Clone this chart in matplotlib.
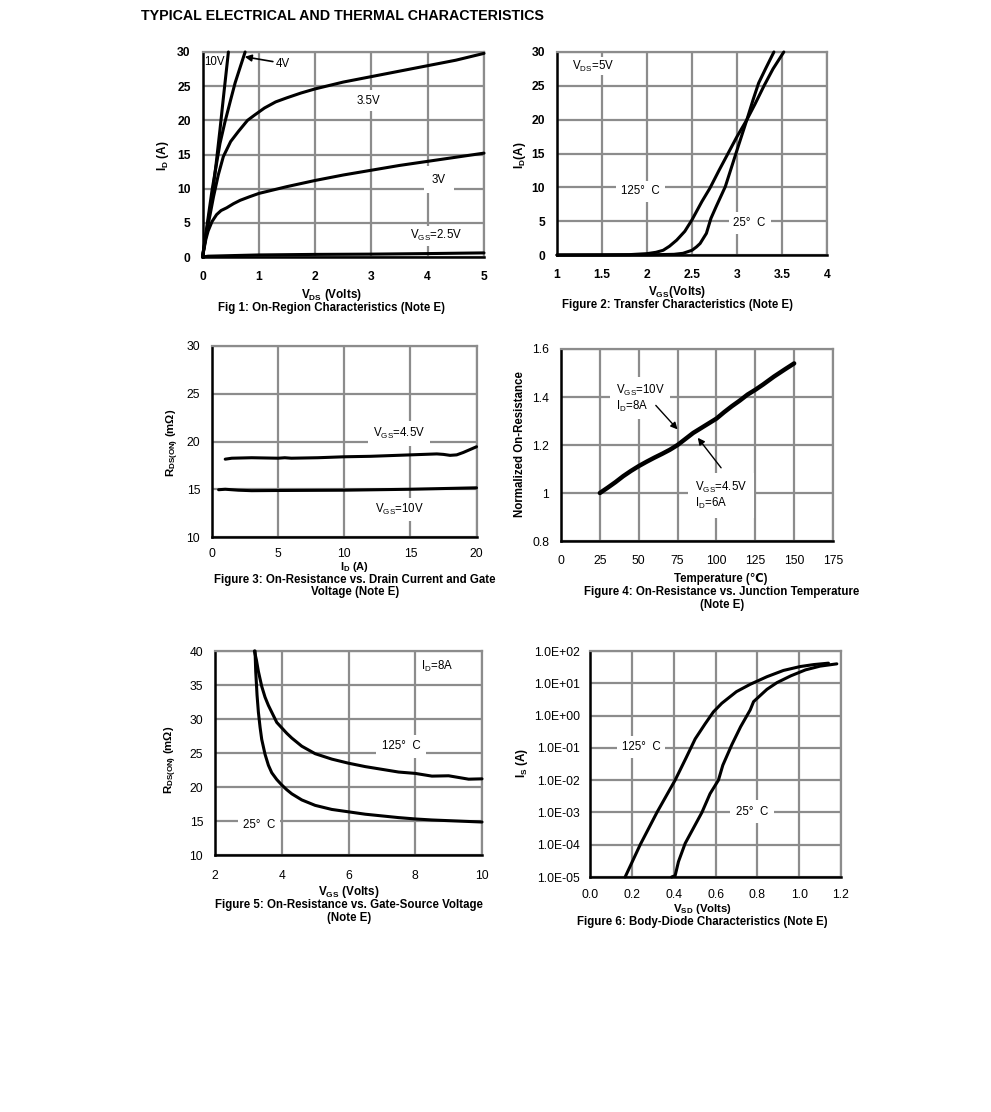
import matplotlib
matplotlib.use("Agg")
import matplotlib.pyplot as plt

plt.rcParams["font.family"] = ["Liberation Sans", "DejaVu Sans"]
plt.rcParams["mathtext.fontset"] = "custom"
plt.rcParams["mathtext.rm"] = "Liberation Sans"
plt.rcParams["mathtext.bf"] = "Liberation Sans:bold"
plt.rcParams["mathtext.default"] = "regular"

W, H = 991, 1112
BLACK = "#000000"
GRID = "#8c8c8c"

# Fig 1
f1_10v_x = [0, 0.05, 0.1, 0.17, 0.24, 0.31, 0.38, 0.46]
f1_10v_y = [0, 2.6, 5.2, 8.8, 13.5, 18.6, 24, 30]
f1_4v_x = [0, 0.08, 0.17, 0.24, 0.31, 0.4, 0.5, 0.58, 0.67, 0.757]
f1_4v_y = [0, 4.6, 9.8, 13.2, 16.6, 19.8, 23, 25.5, 27.8, 30]
f1_35v_x = [0, 0.04, 0.08, 0.13, 0.195, 0.28, 0.37, 0.5, 0.64, 0.8, 0.93, 1.1, 1.3, 1.5, 1.75, 2, 2.5, 3, 3.5, 4, 4.5, 5]
f1_35v_y = [0, 2, 3.9, 6, 8.8, 12, 14.7, 16.9, 18.4, 20, 20.8, 21.8, 22.7, 23.3, 24, 24.6, 25.6, 26.4, 27.2, 28, 28.8, 29.8]
f1_3v_x = [0, 0.03, 0.06, 0.1, 0.17, 0.25, 0.33, 0.43, 0.55, 0.67, 0.83, 1, 1.25, 1.5, 2, 2.5, 3, 3.5, 4, 4.5, 5]
f1_3v_y = [0, 1.3, 2.6, 3.8, 5.2, 6.2, 6.8, 7.2, 7.8, 8.3, 8.8, 9.3, 9.8, 10.3, 11.2, 12, 12.7, 13.4, 14, 14.6, 15.2]
f1_25v_x = [0, 0.1, 1, 2, 3, 4, 5]
f1_25v_y = [0, 0.12, 0.3, 0.38, 0.42, 0.5, 0.6]

# Fig 2
f2_125_x = [1, 1.5, 1.8, 2, 2.1, 2.18, 2.25, 2.33, 2.42, 2.5, 2.61, 2.7, 2.8, 2.9, 3, 3.11, 3.2, 3.3, 3.4, 3.52]
f2_125_y = [0, 0.02, 0.05, 0.2, 0.4, 0.7, 1.3, 2.2, 3.5, 5.2, 7.9, 9.9, 12.5, 15, 17.5, 20, 22.3, 25, 27.5, 30]
f2_25_x = [1, 2, 2.3, 2.4, 2.5, 2.55, 2.59, 2.66, 2.71, 2.77, 2.87, 3, 3.11, 3.18, 3.24, 3.32, 3.41]
f2_25_y = [0, 0.02, 0.1, 0.25, 0.7, 1.2, 1.7, 3.2, 5.4, 7.2, 10.1, 15.5, 20, 23, 25.4, 27.6, 30]

# Fig 3
f3_45v_x = [1, 1.5, 3, 5, 5.5, 6, 8, 10, 12, 15, 17, 17.5, 18, 18.5, 19, 19.5, 20]
f3_45v_y = [18.15, 18.25, 18.3, 18.25, 18.3, 18.25, 18.3, 18.4, 18.45, 18.6, 18.7, 18.65, 18.55, 18.6, 18.85, 19.15, 19.45]
f3_10v_x = [0.5, 1, 2, 3, 5, 10, 15, 20]
f3_10v_y = [14.95, 15, 14.9, 14.85, 14.87, 14.9, 15, 15.15]

# Fig 4
f4_temp = [25, 30, 35, 40, 45, 50, 55, 60, 65, 70, 75, 80, 85, 90, 95, 100, 105, 110, 115, 120, 125, 130, 137, 144, 150]
f4_norm = [1, 1.022, 1.045, 1.07, 1.092, 1.112, 1.13, 1.147, 1.163, 1.18, 1.2, 1.225, 1.25, 1.27, 1.29, 1.31, 1.337, 1.362, 1.385, 1.41, 1.43, 1.452, 1.485, 1.515, 1.54]

# Fig 5
f5_25_x = [3.2, 3.22, 3.26, 3.3, 3.35, 3.4, 3.5, 3.6, 3.7, 3.85, 4, 4.15, 4.3, 4.6, 5, 5.5, 6, 6.5, 7, 7.5, 8, 8.5, 9, 10]
f5_25_y = [40, 37, 33.5, 31, 28.8, 27, 24.8, 23.2, 22.1, 21.1, 20.3, 19.6, 19, 18.1, 17.3, 16.7, 16.35, 16, 15.75, 15.5, 15.3, 15.15, 15.05, 14.85]
f5_125_x = [3.18, 3.24, 3.3, 3.4, 3.5, 3.6, 3.7, 3.85, 4, 4.15, 4.3, 4.6, 5, 5.5, 6, 6.5, 7, 7.5, 8, 8.5, 9, 9.3, 9.6, 10]
f5_125_y = [40, 38.7, 37, 34.8, 33.2, 32, 31, 29.5, 28.7, 27.9, 27.2, 26, 24.9, 24.1, 23.5, 23, 22.6, 22.2, 22, 21.6, 21.65, 21.4, 21.15, 21.2]

# Fig 6
f6_125_x = [0.168, 0.24, 0.32, 0.407, 0.46, 0.503, 0.55, 0.59, 0.63, 0.7, 0.766, 0.846, 0.925, 1.005, 1.07, 1.14]
f6_125_y = [1e-5, 1e-4, 1e-3, 1e-2, 5e-2, 0.19, 0.55, 1.3, 2.4, 5.5, 9.3, 16, 25, 33, 38, 42]
f6_25_x = [0.39, 0.407, 0.423, 0.455, 0.535, 0.574, 0.614, 0.635, 0.678, 0.72, 0.766, 0.782, 0.846, 0.894, 0.96, 1.03, 1.1, 1.18]
f6_25_y = [1e-5, 1.1e-5, 3e-5, 1.1e-4, 1e-3, 3.8e-3, 1e-2, 2.9e-2, 0.125, 0.45, 1.5, 2.7, 6.5, 10.5, 17, 26, 34, 40]
f6_ticks = [1e-5, 1e-4, 1e-3, 1e-2, 1e-1, 1e0, 1e1, 1e2]
f6_ticklabels = ["1.0E-05", "1.0E-04", "1.0E-03", "1.0E-02", "1.0E-01", "1.0E+00", "1.0E+01", "1.0E+02"]

fig = plt.figure(figsize=(W / 100, H / 100), dpi=100, facecolor="white")


def make_axes(box, xlim, ylim, xticks, yticks, tick_weight="normal", xlabels=None, ylabels=None, xpad=9, ypad=8.5):
    x0, x1, y0, y1 = box
    ax = fig.add_axes([x0 / W, 1 - y1 / H, (x1 - x0) / W, (y1 - y0) / H])
    ax.set_xlim(xlim)
    ax.set_ylim(ylim)
    ax.set_xticks(xticks)
    ax.set_yticks(yticks)
    if xlabels:
        ax.set_xticklabels(xlabels)
    if ylabels:
        ax.set_yticklabels(ylabels)
    ax.minorticks_off()
    ax.tick_params(length=0, labelsize=8.7)
    ax.tick_params(axis="x", pad=xpad)
    ax.tick_params(axis="y", pad=ypad)
    for lab in ax.get_xticklabels() + ax.get_yticklabels():
        lab.set_fontweight(tick_weight)
    ax.grid(True, color=GRID, lw=1.6)
    ax.set_axisbelow(True)
    for side in ("top", "right"):
        ax.spines[side].set_color(GRID)
        ax.spines[side].set_linewidth(1.6)
    for side in ("left", "bottom"):
        ax.spines[side].set_color(BLACK)
        ax.spines[side].set_linewidth(1.8)
    return ax


def txt(px, py, s, size=8, weight="normal", ha="center", va="center", rotation=0):
    fig.text(px / W, 1 - py / H, s, fontsize=size, fontweight=weight, ha=ha, va=va, rotation=rotation)


def label(ax, x, y, s, pad=2.5, size=8.3, ha="center"):
    ax.text(x, y, s, fontsize=size, ha=ha, va="center", zorder=2.5, linespacing=1.05,
            bbox=dict(facecolor="white", edgecolor="none", pad=pad))


def curve(ax, x, y, lw=2.2):
    ax.plot(x, y, color=BLACK, lw=lw, solid_capstyle="round", clip_on=False, zorder=3)


VGS = r"V$_{GS}$"
ID = r"I$_{D}$"

txt(141, 16, "TYPICAL ELECTRICAL AND THERMAL CHARACTERISTICS", size=10.3, weight="bold", ha="left")

# Fig 1
ax1 = make_axes((202.5, 484, 52, 257), (0, 5), (0, 30), range(0, 6), range(0, 31, 5), tick_weight="bold", xpad=10)
for x, y in [(f1_10v_x, f1_10v_y), (f1_4v_x, f1_4v_y), (f1_35v_x, f1_35v_y), (f1_3v_x, f1_3v_y), (f1_25v_x, f1_25v_y)]:
    curve(ax1, x, y)
label(ax1, 0.21, 28.6, "10V", pad=1)
label(ax1, 1.43, 28.2, "4V", pad=2)
label(ax1, 2.94, 22.9, "3.5V", pad=3)
label(ax1, 4.2, 11.3, "3V", pad=5.5)
label(ax1, 4.15, 3.1, VGS + "=2.5V", pad=2)
ax1.annotate("", xy=(0.75, 29.3), xytext=(1.25, 28.6),
             arrowprops=dict(arrowstyle="-|>", color=BLACK, lw=1.2, shrinkA=0, shrinkB=0), zorder=4)
txt(163, 156, r"I$_{\mathbf{D}}$ (A)", size=8.5, weight="bold", rotation=90)
txt(332, 295, r"V$_{\mathbf{DS}}$ (Volts)", size=8.5, weight="bold")
txt(332, 308, "Fig 1: On-Region Characteristics (Note E)", size=8.3, weight="bold")

# Fig 2
ax2 = make_axes((557, 827, 52, 255), (1, 4), (0, 30), [1, 1.5, 2, 2.5, 3, 3.5, 4], range(0, 31, 5),
                tick_weight="bold", xlabels=["1", "1.5", "2", "2.5", "3", "3.5", "4"], xpad=10)
curve(ax2, f2_125_x, f2_125_y)
curve(ax2, f2_25_x, f2_25_y)
label(ax2, 1.40, 27.9, r"V$_{DS}$=5V", pad=1)
label(ax2, 1.93, 9.4, "125°  C", pad=3.5)
label(ax2, 3.14, 4.7, "25°  C", pad=3.5)
txt(520, 155, r"I$_{\mathbf{D}}$(A)", size=8.5, weight="bold", rotation=90)
txt(677, 292, r"V$_{\mathbf{GS}}$(Volts)", size=8.5, weight="bold")
txt(677, 305, "Figure 2: Transfer Characteristics (Note E)", size=8.3, weight="bold")

# Fig 3
ax3 = make_axes((212, 476.5, 346, 537), (0, 20), (10, 30), range(0, 21, 5), range(10, 31, 5), xpad=8)
curve(ax3, f3_45v_x, f3_45v_y)
curve(ax3, f3_10v_x, f3_10v_y)
label(ax3, 14.15, 20.8, VGS + "=4.5V", pad=3.5)
label(ax3, 14.2, 12.85, VGS + "=10V", pad=3)
txt(173, 443, r"R$_{DS(ON)}$ (m$\mathbf{\Omega}$)", size=8.2, weight="bold", rotation=90)
txt(355, 566.5, ID + " (A)", size=8, weight="bold")
txt(355, 580, "Figure 3: On-Resistance vs. Drain Current and Gate", size=8.3, weight="bold")
txt(355, 592.5, "Voltage (Note E)", size=8.3, weight="bold")

# Fig 4
ax4 = make_axes((561, 833, 349, 541), (0, 175), (0.8, 1.6), range(0, 176, 25), [0.8, 1, 1.2, 1.4, 1.6],
                ylabels=["0.8", "1", "1.2", "1.4", "1.6"], xpad=10)
curve(ax4, f4_temp, f4_norm, lw=3.2)
label(ax4, 35.4, 1.395, VGS + "=10V\n" + ID + "=8A", pad=4, ha="left")
label(ax4, 86, 0.99, VGS + "=4.5V\n" + ID + "=6A", pad=5, ha="left")
ax4.annotate("", xy=(75, 1.265), xytext=(61, 1.365),
             arrowprops=dict(arrowstyle="-|>", color=BLACK, lw=1.0, shrinkA=0, shrinkB=0), zorder=4)
ax4.annotate("", xy=(88, 1.23), xytext=(103, 1.105),
             arrowprops=dict(arrowstyle="-|>", color=BLACK, lw=1.0, shrinkA=0, shrinkB=0), zorder=4)
txt(520, 444, "Normalized On-Resistance", size=8.3, weight="bold", rotation=90)
txt(721, 579, "Temperature (℃)", size=8.3, weight="bold")
txt(722, 592, "Figure 4: On-Resistance vs. Junction Temperature", size=8.3, weight="bold")
txt(722, 605, "(Note E)", size=8.3, weight="bold")

# Fig 5
ax5 = make_axes((215, 482, 651, 855), (2, 10), (10, 40), range(2, 11, 2), range(10, 41, 5), xpad=11)
curve(ax5, f5_25_x, f5_25_y)
curve(ax5, f5_125_x, f5_125_y)
label(ax5, 7.57, 26, "125°  C", pad=4)
label(ax5, 3.33, 14.4, "25°  C", pad=3.5)
label(ax5, 8.67, 37.8, ID + "=8A", pad=1)
txt(171, 760, r"R$_{DS(ON)}$ (m$\mathbf{\Omega}$)", size=8.2, weight="bold", rotation=90)
txt(349, 892, r"V$_{\mathbf{GS}}$ (Volts)", size=8.5, weight="bold")
txt(349, 905, "Figure 5: On-Resistance vs. Gate-Source Voltage", size=8.3, weight="bold")
txt(349, 918, "(Note E)", size=8.3, weight="bold")

# Fig 6
ax6 = make_axes((590, 841, 651, 877), (0, 1.2), (1e-5, 1e2), [0, 0.2, 0.4, 0.6, 0.8, 1.0, 1.2], [1],
                xlabels=["0.0", "0.2", "0.4", "0.6", "0.8", "1.0", "1.2"], xpad=8.5)
ax6.set_yscale("log")
ax6.set_ylim(1e-5, 1e2)
ax6.set_yticks(f6_ticks)
ax6.set_yticklabels(f6_ticklabels)
ax6.minorticks_off()
ax6.tick_params(axis="y", pad=7)
curve(ax6, f6_125_x, f6_125_y)
curve(ax6, f6_25_x, f6_25_y)
label(ax6, 0.245, 0.105, "125°  C", pad=3.5)
label(ax6, 0.775, 1.05e-3, "25°  C", pad=4)
txt(522, 763, r"I$_{\mathbf{S}}$ (A)", size=8.5, weight="bold", rotation=90)
txt(702, 908.5, r"V$_{\mathbf{SD}}$ (Volts)", size=8.2, weight="bold")
txt(702, 921.5, "Figure 6: Body-Diode Characteristics (Note E)", size=8.3, weight="bold")

fig.savefig("out.png", dpi=100, facecolor="white")
